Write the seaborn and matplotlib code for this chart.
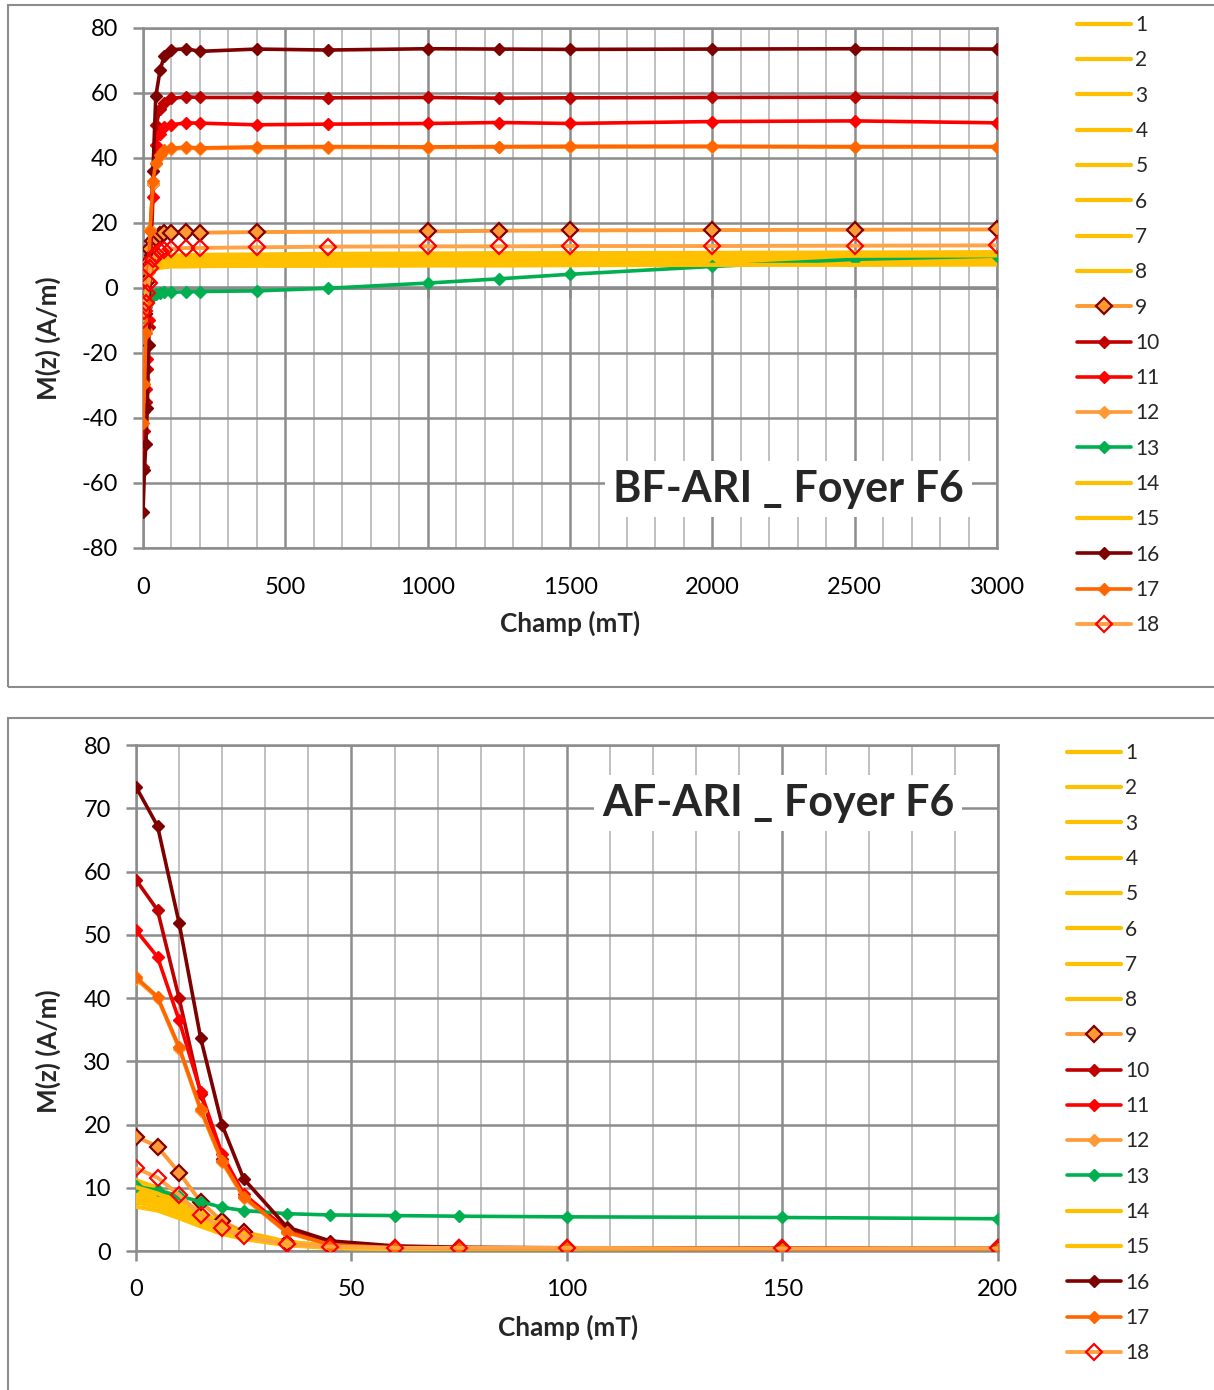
import matplotlib
matplotlib.use('Agg')
import pandas as pd
import matplotlib.pyplot as plt
import seaborn as sns
from matplotlib.ticker import MultipleLocator, NullFormatter
from matplotlib.patches import Rectangle

# ---- data ----
series_names = [str(i) for i in range(1, 19)]

# BF-ARI : champ (mT)
champ_bf = [0, 5, 10, 15, 20, 25, 35, 45, 60, 75, 100, 150, 200, 400, 650, 1000, 1250, 1500, 2000, 2500, 3000]
champ_bf_9 = [0, 5, 10, 15, 20, 25, 35, 45, 60, 75, 100, 150, 200, 400, 1000, 1250, 1500, 2000, 2500, 3000]

bf_1 = [-6.6, -5.0, -3.3, -1.1, 1.7, 5.0, 7.7, 8.8, 9.5, 9.8, 10.0, 10.1, 10.2, 10.3, 10.5, 10.6, 10.7, 10.7, 10.8, 10.9, 11.0]
bf_2 = [-6.2, -4.7, -3.1, -1.0, 1.6, 4.7, 7.3, 8.3, 8.9, 9.3, 9.5, 9.6, 9.7, 9.8, 9.9, 10.0, 10.1, 10.1, 10.2, 10.3, 10.4]
bf_3 = [-5.9, -4.4, -2.9, -1.0, 1.5, 4.4, 6.9, 7.8, 8.4, 8.7, 8.9, 9.0, 9.1, 9.2, 9.3, 9.4, 9.5, 9.5, 9.6, 9.7, 9.8]
bf_4 = [-5.6, -4.2, -2.8, -0.9, 1.4, 4.2, 6.5, 7.4, 8.0, 8.3, 8.5, 8.6, 8.6, 8.7, 8.8, 8.9, 9.0, 9.0, 9.1, 9.2, 9.3]
bf_5 = [-5.3, -4.0, -2.7, -0.9, 1.3, 4.0, 6.2, 7.1, 7.7, 7.9, 8.1, 8.2, 8.3, 8.4, 8.5, 8.5, 8.6, 8.6, 8.7, 8.8, 8.9]
bf_6 = [-5.1, -3.8, -2.6, -0.9, 1.3, 3.8, 6.0, 6.8, 7.3, 7.6, 7.7, 7.8, 7.9, 8.0, 8.1, 8.2, 8.2, 8.2, 8.3, 8.4, 8.5]
bf_7 = [-4.9, -3.6, -2.4, -0.8, 1.2, 3.6, 5.7, 6.5, 7.0, 7.2, 7.4, 7.5, 7.5, 7.6, 7.7, 7.8, 7.8, 7.9, 7.9, 8.0, 8.1]
bf_8 = [-4.6, -3.5, -2.3, -0.8, 1.2, 3.5, 5.4, 6.2, 6.6, 6.9, 7.0, 7.1, 7.2, 7.2, 7.3, 7.4, 7.4, 7.5, 7.5, 7.6, 7.7]
bf_9 = [-12, -8, -4, 2, 8, 12, 14.5, 15.5, 16.3, 16.8, 17.0, 17.1, 17.0, 17.2, 17.4, 17.6, 17.7, 17.8, 17.9, 18.0]
bf_10 = [-55, -44, -35, -25, -12, 8, 32, 50, 55, 57, 58.3, 58.8, 58.6, 58.6, 58.5, 58.6, 58.4, 58.5, 58.6, 58.7, 58.6]
bf_11 = [-48, -38, -31, -22, -10, 6, 28, 44, 47.5, 49.5, 50.2, 50.8, 50.7, 50.2, 50.4, 50.6, 50.9, 50.6, 51.2, 51.4, 50.8]
bf_12 = [-40, -28, -13, -4, 6, 18, 32, 38, 40.5, 42, 42.7, 43.0, 42.9, 43.1, 43.2, 43.2, 43.3, 43.3, 43.4, 43.3, 43.3]
bf_13 = [-9, -7.5, -6, -4.5, -3.5, -3, -2.2, -1.8, -1.5, -1.4, -1.3, -1.2, -1.1, -0.9, -0.1, 1.5, 2.8, 4.2, 6.6, 8.8, 9.8]
bf_14 = [-4.3, -3.2, -2.2, -0.7, 1.1, 3.2, 5.0, 5.8, 6.2, 6.4, 6.6, 6.6, 6.7, 6.8, 6.8, 6.9, 6.9, 7.0, 7.1, 7.1, 7.2]
bf_15 = [-6.0, -4.5, -3.0, -1.0, 1.5, 4.5, 7.0, 8.0, 8.6, 8.9, 9.1, 9.2, 9.3, 9.4, 9.5, 9.6, 9.7, 9.7, 9.8, 9.9, 10.0]
bf_16 = [-69, -56, -48, -37, -17.5, 10, 36, 59, 67, 71.5, 73.3, 73.6, 72.8, 73.5, 73.2, 73.6, 73.5, 73.4, 73.5, 73.6, 73.5]
bf_17 = [-41.5, -29.5, -14, -5, 5, 17.5, 33, 38.5, 41, 42.3, 43.0, 43.3, 43.1, 43.4, 43.5, 43.4, 43.5, 43.6, 43.6, 43.5, 43.5]
bf_18 = [-10, -7, -4.5, -1.5, 1.5, 6, 9, 10.5, 11.3, 11.8, 12.0, 12.3, 12.3, 12.5, 12.7, 12.8, 12.8, 12.9, 12.9, 13.0, 13.1]

# AF-ARI : champ (mT)
champ_af = [0, 5, 10, 15, 20, 25, 35, 45, 60, 75, 100, 150, 200]

af_1 = [11.2, 10.0, 8.3, 6.2, 4.4, 3.0, 1.5, 0.8, 0.5, 0.4, 0.3, 0.3, 0.2]
af_2 = [10.5, 9.4, 7.8, 5.8, 4.1, 2.8, 1.4, 0.8, 0.5, 0.4, 0.3, 0.3, 0.2]
af_3 = [9.9, 8.9, 7.4, 5.5, 3.9, 2.7, 1.3, 0.7, 0.4, 0.3, 0.3, 0.2, 0.2]
af_4 = [9.4, 8.5, 7.0, 5.2, 3.7, 2.5, 1.2, 0.7, 0.4, 0.3, 0.3, 0.2, 0.2]
af_5 = [9.0, 8.1, 6.7, 5.0, 3.5, 2.4, 1.2, 0.6, 0.4, 0.3, 0.2, 0.2, 0.2]
af_6 = [8.5, 7.7, 6.3, 4.7, 3.3, 2.3, 1.1, 0.6, 0.4, 0.3, 0.2, 0.2, 0.2]
af_7 = [8.1, 7.3, 6.0, 4.5, 3.2, 2.2, 1.1, 0.6, 0.4, 0.3, 0.2, 0.2, 0.1]
af_8 = [7.7, 7.0, 5.7, 4.3, 3.0, 2.1, 1.0, 0.5, 0.3, 0.3, 0.2, 0.2, 0.1]
af_9 = [18.1, 16.5, 12.4, 7.8, 4.7, 3.0, 1.2, 0.8, 0.5, 0.5, 0.4, 0.4, 0.4]
af_10 = [58.7, 53.9, 40.0, 24.9, 14.5, 8.5, 3.0, 1.2, 0.6, 0.5, 0.4, 0.4, 0.3]
af_11 = [50.7, 46.5, 36.5, 25.2, 15.3, 9.0, 3.4, 1.3, 0.6, 0.5, 0.4, 0.4, 0.3]
af_12 = [43.0, 40.0, 32.0, 22.2, 14.0, 8.4, 2.9, 1.0, 0.5, 0.4, 0.4, 0.3, 0.3]
af_13 = [10.2, 9.6, 8.7, 7.8, 6.9, 6.4, 5.9, 5.7, 5.6, 5.5, 5.4, 5.3, 5.1]
af_14 = [7.0, 6.4, 5.2, 3.9, 2.7, 1.9, 0.9, 0.5, 0.3, 0.2, 0.2, 0.1, 0.1]
af_15 = [10.1, 9.1, 7.6, 5.6, 4.0, 2.7, 1.3, 0.7, 0.4, 0.3, 0.3, 0.2, 0.2]
af_16 = [73.4, 67.2, 51.9, 33.7, 19.9, 11.4, 3.8, 1.6, 0.8, 0.6, 0.5, 0.4, 0.4]
af_17 = [43.3, 40.2, 32.3, 22.5, 14.3, 8.6, 3.0, 1.0, 0.5, 0.4, 0.4, 0.3, 0.3]
af_18 = [13.1, 11.6, 8.9, 5.7, 3.6, 2.3, 1.1, 0.7, 0.5, 0.5, 0.5, 0.4, 0.4]

bf_list = [bf_1, bf_2, bf_3, bf_4, bf_5, bf_6, bf_7, bf_8, bf_9, bf_10, bf_11, bf_12, bf_13, bf_14, bf_15, bf_16, bf_17, bf_18]
af_list = [af_1, af_2, af_3, af_4, af_5, af_6, af_7, af_8, af_9, af_10, af_11, af_12, af_13, af_14, af_15, af_16, af_17, af_18]

rows = []
for name, ys in zip(series_names, bf_list):
    xs = champ_bf_9 if name == '9' else champ_bf
    for x, y in zip(xs, ys):
        rows.append(('BF', name, x, y))
for name, ys in zip(series_names, af_list):
    for x, y in zip(champ_af, ys):
        rows.append(('AF', name, x, y))
df = pd.DataFrame(rows, columns=['mesure', 'serie', 'champ', 'M'])

# ---- styles ----
YEL = '#FFC000'
style = {n: dict(color=YEL, lw=3.0) for n in series_names}
style['9'] = dict(color='#FF9933', lw=2.8, marker='D', ms=8.5, mfc='#FF9933', mec='#800000', mew=1.6)
style['10'] = dict(color='#C00000', lw=2.6, marker='D', ms=6.5, mfc='#C00000', mec='#C00000')
style['11'] = dict(color='#FF0000', lw=2.6, marker='D', ms=6.5, mfc='#FF0000', mec='#FF0000')
style['12'] = dict(color='#FF9933', lw=2.6, marker='D', ms=6.5, mfc='#FF9933', mec='#FF9933')
style['13'] = dict(color='#00B050', lw=2.6, marker='D', ms=6.5, mfc='#00B050', mec='#00B050')
style['16'] = dict(color='#7F0000', lw=2.6, marker='D', ms=6.5, mfc='#7F0000', mec='#7F0000')
style['17'] = dict(color='#FF6600', lw=2.6, marker='D', ms=6.5, mfc='#FF6600', mec='#FF6600')
style['18'] = dict(color='#FFA347', lw=2.8, marker='D', ms=8.5, mfc='none', mec='#FF0000', mew=1.6)

sns.set_theme(style='white')
plt.rcParams['font.family'] = ['Lato', 'DejaVu Sans']
plt.rcParams['axes.unicode_minus'] = False

GMAJ = '#8C8C8C'
GMIN = '#C0C0C0'

fig = plt.figure(figsize=(12.14, 13.90), dpi=100)
ax1 = fig.add_axes([0.1178, 0.6058, 0.7035, 0.3741])
ax2 = fig.add_axes([0.1120, 0.1000, 0.7100, 0.3640])

# outer chart frames
fig.patches.append(Rectangle((8 / 1214, 1 - 687 / 1390), 1.0, 682 / 1390, transform=fig.transFigure,
                             fill=False, edgecolor='#8C8C8C', lw=1.5))
fig.patches.append(Rectangle((8 / 1214, -0.01), 1.0, 1 - 718 / 1390 + 0.01, transform=fig.transFigure,
                             fill=False, edgecolor='#8C8C8C', lw=1.5))


def draw(ax, mesure):
    sub = df[df.mesure == mesure]
    for n in series_names:
        st = style[n]
        d = sub[sub.serie == n]
        kw = dict(color=st['color'], linewidth=st['lw'], label=n, errorbar=None, sort=False)
        if 'marker' in st:
            kw.update(marker=st['marker'], markersize=st['ms'], markerfacecolor=st['mfc'],
                      markeredgecolor=st['mec'], markeredgewidth=st.get('mew', 1.0))
        sns.lineplot(data=d, x='champ', y='M', ax=ax, zorder=3, **kw)


draw(ax1, 'BF')
draw(ax2, 'AF')

for ax in (ax1, ax2):
    ax.grid(False)
    for s in ax.spines.values():
        s.set_color(GMAJ)
        s.set_linewidth(1.8)
    ax.grid(which='major', color=GMAJ, lw=1.8, zorder=0)
    ax.grid(which='minor', axis='x', color=GMIN, lw=1.4, zorder=0)
    ax.set_axisbelow(True)
    ax.tick_params(axis='both', which='both', labelsize=17, colors='black')
    ax.tick_params(axis='y', which='major', direction='out', length=7, color=GMAJ, width=1.8, pad=11, left=True)

# top chart
ax1.set_xlim(0, 3000)
ax1.set_ylim(-80, 80)
ax1.xaxis.set_major_locator(MultipleLocator(500))
ax1.xaxis.set_minor_locator(MultipleLocator(100))
ax1.yaxis.set_major_locator(MultipleLocator(20))
ax1.tick_params(axis='x', which='both', length=0, pad=21)
ax1.axhline(0, color=GMAJ, lw=2.6, zorder=1)
sec = ax1.secondary_xaxis(0.4999)
sec.xaxis.set_ticks_position('bottom')
sec.xaxis.set_major_locator(MultipleLocator(500))
sec.xaxis.set_major_formatter(NullFormatter())
sec.tick_params(axis='x', which='major', direction='out', length=7, color=GMAJ, width=1.8)
for s in sec.spines.values():
    s.set_visible(False)

# bottom chart
ax2.set_xlim(0, 200)
ax2.set_ylim(0, 80)
ax2.xaxis.set_major_locator(MultipleLocator(50))
ax2.xaxis.set_minor_locator(MultipleLocator(10))
ax2.yaxis.set_major_locator(MultipleLocator(10))
ax2.tick_params(axis='x', which='major', direction='out', length=7, color=GMAJ, width=1.8, pad=13, bottom=True)
ax2.tick_params(axis='x', which='minor', length=0)

for ax, title, tpos, ylc, xlc in [
    (ax1, 'BF-ARI _ Foyer F6', (0.756, 0.1135), (-0.096, 0.404), (0.5, -0.12)),
    (ax2, 'AF-ARI _ Foyer F6', (0.745, 0.885), (-0.087, 0.395), (0.501, -0.126)),
]:
    ax.set_xlabel('Champ (mT)', fontsize=18.8, weight='bold')
    ax.set_ylabel('M(z) (A/m)', fontsize=18.8, weight='bold')
    ax.yaxis.set_label_coords(*ylc)
    ax.xaxis.set_label_coords(*xlc)
    ax.text(tpos[0], tpos[1], title, transform=ax.transAxes, ha='center', va='center',
            fontsize=31, weight='bold', zorder=6,
            bbox=dict(facecolor='white', edgecolor='none', pad=6))

for ax, anchor in [(ax1, (1077 / 1214, 1 - 15 / 1390)), (ax2, (1067 / 1214, 1 - 743 / 1390))]:
    handles, labels = ax.get_legend_handles_labels()
    ax.legend(handles, labels, loc='upper left', bbox_to_anchor=anchor, bbox_transform=fig.transFigure,
              frameon=False, fontsize=15, handlelength=2.6, handletextpad=0.2, labelspacing=0.735,
              borderaxespad=0, borderpad=0)

fig.savefig('out.png', dpi=100)
